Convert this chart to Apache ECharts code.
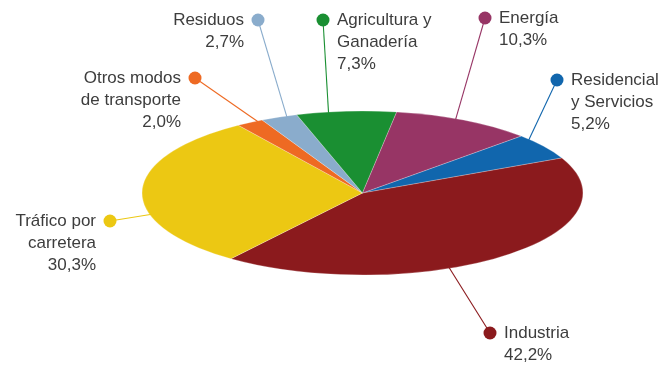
<!DOCTYPE html>
<html><head><meta charset="utf-8">
<script src="https://cdn.jsdelivr.net/npm/echarts@6/dist/echarts.min.js"></script>
<style>html,body{margin:0;padding:0;background:#fff}#c{width:660px;height:367px}</style>
</head><body><div id="c"></div>
<script>
// ---- data ----
const categories = ['Residencial\ny Servicios', 'Industria', 'Tráfico por\ncarretera', 'Otros modos\nde transporte', 'Residuos', 'Agricultura y\nGanadería', 'Energía'];
const values = [5.2, 42.2, 30.3, 2.0, 2.7, 7.3, 10.3];
const colors = ['#1166ad', '#8b1a1d', '#ecc813', '#ee6a23', '#8aaccc', '#1a8f32', '#973565'];

// ---- layout (positions / styles) ----
const pie = { cx: 362.5, cy: 193, rx: 220.5, ry: 82, startDeg: 44 };
const anchorT = [0.19, 0.605, 0.35, 0.79, 0.70, 0.32, 0.44];
const dots = [[557, 80], [490, 333], [110, 221], [195, 78], [258, 20], [323, 20], [485, 18]];
const sides = ['r', 'r', 'l', 'l', 'l', 'r', 'r'];
const FONT = '17px "Liberation Sans", Arial, sans-serif';

const total = values.reduce((a, b) => a + b, 0);
const fmt = v => v.toFixed(1).replace('.', ',') + '%';

function renderItem(params, api) {
  const i = params.dataIndex;
  const v = api.value(0);
  let before = 0;
  for (let k = 0; k < i; k++) before += values[k];
  const base = -pie.startDeg * Math.PI / 180;
  const a0 = base + before / total * Math.PI * 2;
  const a1 = a0 + v / total * Math.PI * 2;
  const am = a0 + anchorT[i] * (a1 - a0);
  const px = pie.cx + pie.rx * 0.99 * Math.cos(am);
  const py = pie.cy + pie.ry * 0.99 * Math.sin(am);
  const d = dots[i];
  const left = sides[i] === 'l';
  return {
    type: 'group',
    children: [
      {
        type: 'sector', x: pie.cx, y: pie.cy, scaleY: pie.ry / pie.rx,
        shape: { cx: 0, cy: 0, r0: 0, r: pie.rx, startAngle: a0, endAngle: a1, clockwise: true },
        style: { fill: colors[i], stroke: 'rgba(255,255,255,0.6)', lineWidth: 0.6, strokeNoScale: true },
        z2: 1
      },
      {
        type: 'line', shape: { x1: px, y1: py, x2: d[0], y2: d[1] },
        style: { stroke: colors[i], lineWidth: 1.1 }, z2: 5
      },
      {
        type: 'circle', shape: { cx: d[0], cy: d[1], r: 6.5 },
        style: { fill: colors[i] }, z2: 6
      },
      {
        type: 'text', x: left ? d[0] - 14 : d[0] + 14, y: d[1] - 11,
        style: {
          text: categories[i] + '\n' + fmt(values[i]),
          font: FONT, fill: '#3d3d3d', align: left ? 'right' : 'left',
          verticalAlign: 'top', lineHeight: 22
        }, z2: 6
      }
    ]
  };
}

const chart = echarts.init(document.getElementById('c'), null, { renderer: 'canvas' });
chart.setOption({
  backgroundColor: '#fff',
  animation: false,
  series: [{
    type: 'custom',
    coordinateSystem: 'none',
    silent: true,
    renderItem: renderItem,
    data: values
  }]
});
</script>
</body></html>
